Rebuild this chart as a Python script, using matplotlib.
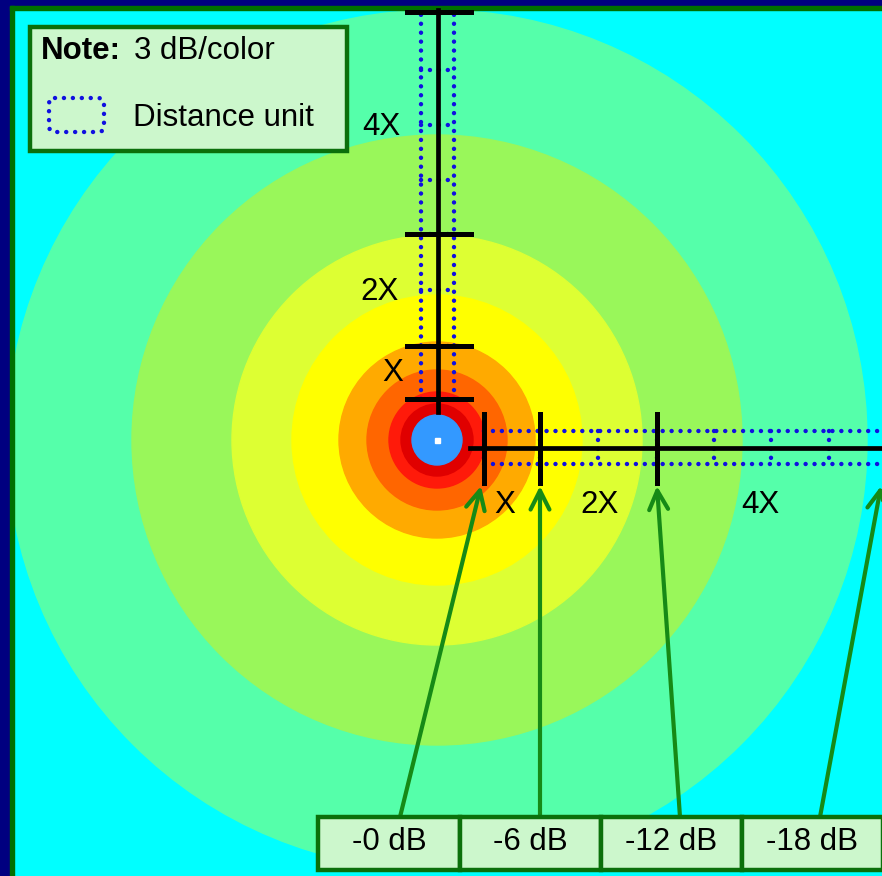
import matplotlib.pyplot as plt
from matplotlib.patches import Circle, Rectangle, FancyBboxPatch

plt.rcParams['font.family'] = ['Liberation Sans', 'DejaVu Sans']

# sound level bands, 3 dB per colour, outer radius in pixels (outermost first)
band_colors = ['#55ffaa', '#99f75a', '#ddff33', '#ffff00', '#ffaa00',
               '#ff6600', '#ff1a0a', '#e00000', '#3399ff']
band_radii = [430, 305, 205, 145, 98, 70, 48, 36, 25]
source = (437, 440)

# distance scale, horizontal arm
h_ticks_x = [484, 540, 657, 890]
h_units_x = [484, 540, 598, 657, 714, 771, 829, 887]
h_labels = ['X', '2X', '4X']
h_label_x = [505, 600, 760]

# distance scale, vertical arm
v_ticks_y = [399, 346, 234, 12]
v_units_y = [399, 346, 290, 234, 180, 125, 70, 12]
v_labels = ['X', '2X', '4X']
v_label_x = [393, 380, 381]
v_label_y = [373, 292, 127]

# level callouts
db_labels = ['-0 dB', '-6 dB', '-12 dB', '-18 dB']
db_box_x = [318, 460, 601, 742, 883]
arrow_start_x = [400, 540, 680, 820]
arrow_end_x = [481, 540, 657, 881]

BLUE = '#1010e0'
GREEN = '#168a16'
BOXGREEN = '#0b700b'
BOXFILL = '#ccf7cc'
FS = 22.5

fig = plt.figure(figsize=(8.82, 8.76), dpi=100)
ax = fig.add_axes([0, 0, 1, 1])
ax.set_xlim(0, 882)
ax.set_ylim(876, 0)
ax.axis('off')
ax.add_patch(Rectangle((0, 0), 882, 876, color='#00ffff', zorder=0))

for r, c in zip(band_radii, band_colors):
    ax.add_patch(Circle(source, r, color=c, zorder=1))
ax.add_patch(Rectangle((source[0] - 2.5, source[1] - 2.5), 5, 5, color='white', zorder=2))

# frame
ax.add_patch(Rectangle((0, 0), 10, 876, color='#000080', zorder=3))
ax.add_patch(Rectangle((0, 0), 882, 6, color='#000080', zorder=3))
ax.add_patch(Rectangle((10, 6), 4, 870, color='#007000', zorder=3))
ax.add_patch(Rectangle((10, 6), 872, 4, color='#007000', zorder=3))

dot = dict(color=BLUE, lw=3.2, linestyle=(0, (0.01, 2.0)), dash_capstyle='round', zorder=4)

# horizontal arm
ax.plot([h_units_x[0], 882], [431, 431], **dot)
ax.plot([h_units_x[0], 882], [464, 464], **dot)
for x in h_units_x:
    ax.plot([x, x], [431, 464], **dot)
ax.plot([470, 882], [448, 448], color='black', lw=3.4, zorder=5)
for x in h_ticks_x:
    ax.plot([x, x], [414, 483], color='black', lw=3.6, zorder=5)
for lab, x in zip(h_labels, h_label_x):
    ax.text(x, 505, lab, fontsize=FS, ha='center', va='center', zorder=6)

# vertical arm
ax.plot([421, 421], [v_units_y[0], 10], **dot)
ax.plot([454, 454], [v_units_y[0], 10], **dot)
for y in v_units_y:
    ax.plot([421, 454], [y, y], **dot)
ax.plot([438, 438], [412, 10], color='black', lw=3.4, zorder=5)
for y in v_ticks_y:
    ax.plot([407, 471], [y, y], color='black', lw=3.6, zorder=5)
for lab, x, y in zip(v_labels, v_label_x, v_label_y):
    ax.text(x, y, lab, fontsize=FS, ha='center', va='center', zorder=6)

# note box
ax.add_patch(Rectangle((30, 27), 317, 124, facecolor=BOXFILL, edgecolor=BOXGREEN,
                       lw=3.2, zorder=6))
ax.text(41, 51, 'Note:', fontsize=FS, fontweight='bold', va='center', zorder=7)
ax.text(134, 51, '3 dB/color', fontsize=FS, va='center', zorder=7)
ax.add_patch(FancyBboxPatch((49, 98), 55, 34, boxstyle='round,pad=0,rounding_size=6',
                            fill=False, edgecolor=BLUE, lw=3.2,
                            linestyle=(0, (0.01, 2.0)), capstyle='round', zorder=7))
ax.text(133, 118, 'Distance unit', fontsize=FS, va='center', zorder=7)

# dB callouts
for i, lab in enumerate(db_labels):
    x0, x1 = db_box_x[i], db_box_x[i + 1]
    ax.add_patch(Rectangle((x0, 817), x1 - x0, 53, facecolor=BOXFILL, edgecolor=BOXGREEN,
                           lw=3.2, zorder=6))
    ax.text((x0 + x1) / 2, 842, lab, fontsize=FS, ha='center', va='center', zorder=7)
    ax.annotate('', xy=(arrow_end_x[i], 486), xytext=(arrow_start_x[i], 817),
                arrowprops=dict(arrowstyle='->', color=GREEN, lw=3.0,
                                mutation_scale=34, shrinkA=0, shrinkB=0),
                zorder=5)

fig.savefig('out.png', dpi=100)
